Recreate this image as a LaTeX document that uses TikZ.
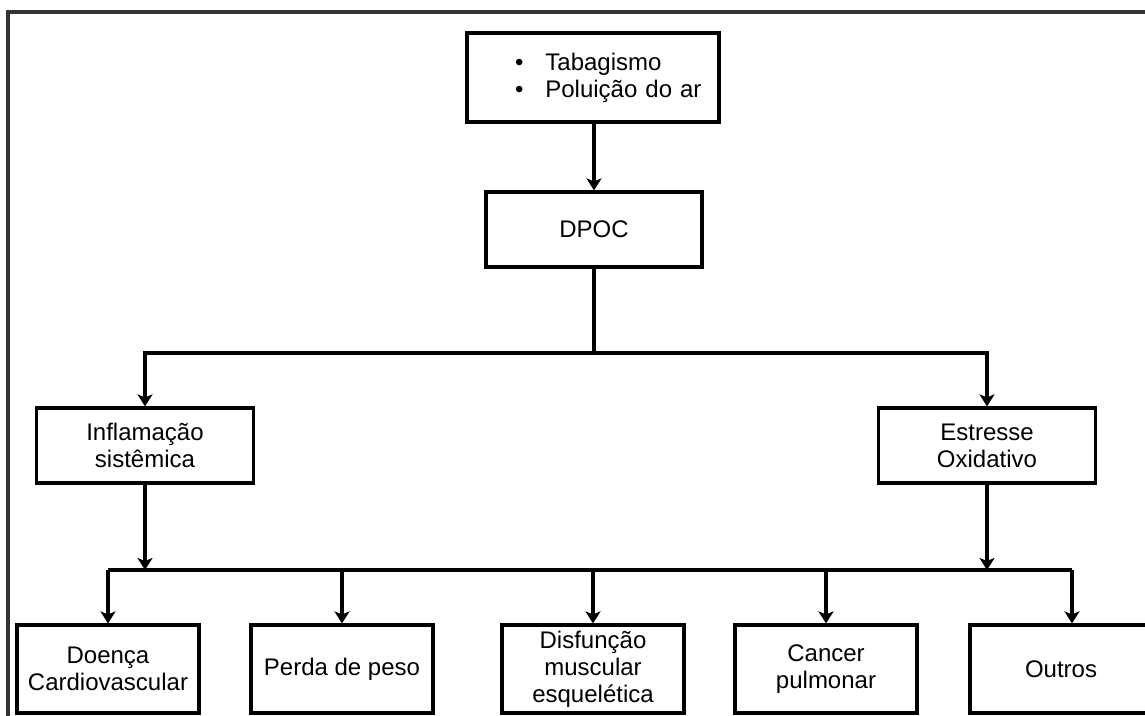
\documentclass[tikz,border=0pt]{standalone}
\usepackage{fontspec}
\setmainfont{Liberation Sans}
\usetikzlibrary{arrows.meta, positioning}

\begin{document}
\begin{tikzpicture}[x=1pt, y=-1pt, font=\fontsize{24}{27}\selectfont,
    blk/.style={draw, line width=3.2pt, align=center, inner sep=0pt},
    midblk/.style={blk, minimum width=217pt, minimum height=75pt},
    lowblk/.style={blk, minimum width=182pt, minimum height=88pt},
    arrow/.style={-{Stealth[length=12pt, width=15pt, inset=3pt]}, line width=3.2pt},
    link/.style={line width=3.2pt}]
    \clip (0,0) rectangle (1145,715);
    % frame
    \draw[line width=3.4pt, black!80] (8,720) -- (8,12) -- (1150,12);
    % causes and disease
    \node[blk, minimum height=89pt, text width=252pt, align=left] (src) at (593,77.5)
        {\hspace*{48pt}\textbullet\hspace{22pt}Tabagismo\\
         \hspace*{48pt}\textbullet\hspace{22pt}Poluição do ar};
    \node[midblk, minimum width=216pt] (dpoc) at (594,229.5) {DPOC};
    % mechanisms
    \node[midblk] (infl) at (145,445.5) {Inflamação\\sistêmica};
    \node[midblk] (estr) at (987,445.5) {Estresse\\Oxidativo};
    % outcomes
    \node[lowblk] (doenca) at (108,669) {Doença\\Cardiovascular};
    \node[lowblk] (perda)  at (342,669) {Perda de peso};
    \node[lowblk] (disf)   at (593,669) {Disfunção\\muscular\\esquelética};
    \node[lowblk] (cancer) at (826,669) {Cancer\\pulmonar};
    \node[lowblk] (outros) at (1061,669) {Outros};
    % connectors
    \coordinate (j1) at (594,353);
    \coordinate (j2) at (593,570);
    \coordinate (outin) at ([xshift=11pt]outros.north);
    \draw[arrow] (src.south -| dpoc.north) -- (dpoc.north);
    \draw[link] (dpoc.south) -- (j1);
    \draw[arrow] (j1) -| (infl.north);
    \draw[arrow] (j1) -| (estr.north);
    \draw[arrow] (infl.south) -- (infl.south |- j2);
    \draw[arrow] (estr.south) -- (estr.south |- j2);
    \draw[link] (doenca.north |- j2) -- (outin |- j2);
    \foreach \n in {doenca, perda, disf, cancer}
        \draw[arrow] (\n.north |- j2) -- (\n.north);
    \draw[arrow] (outin |- j2) -- (outin);
\end{tikzpicture}
\end{document}
